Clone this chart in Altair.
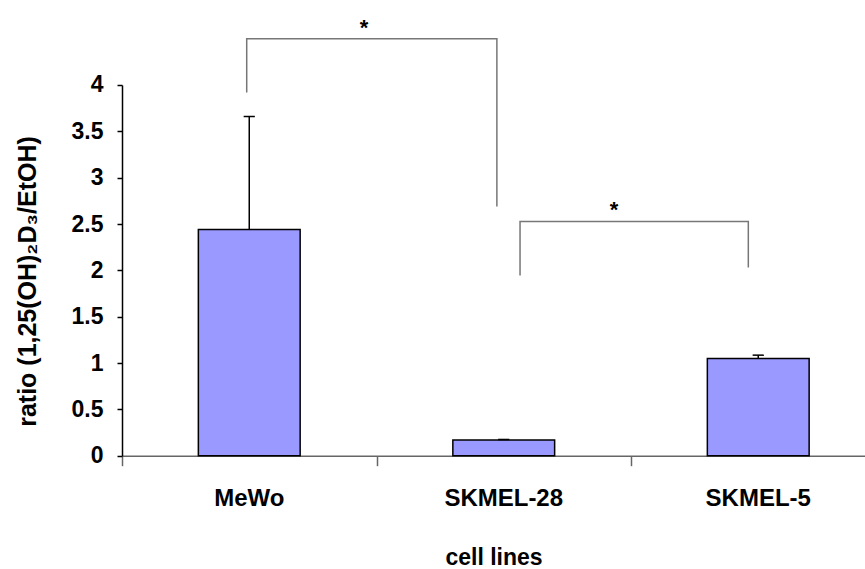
import altair as alt
import pandas as pd

categories = ["MeWo", "SKMEL-28", "SKMEL-5"]
means = [2.44, 0.17, 1.05]
errors = [1.22, 0.005, 0.035]

# significance brackets
bracket_group = ["a", "a", "a", "a", "b", "b", "b", "b"]
bracket_order = [0, 1, 2, 3, 0, 1, 2, 3]
bracket_x = [0.49, 0.49, 1.473, 1.473, 1.564, 1.564, 2.461, 2.461]
bracket_y = [3.92, 4.5, 4.5, 2.69, 1.944, 2.527, 2.527, 2.03]
star_x = [0.951, 1.933]
star_y = [4.66, 2.69]
star_text = ["*", "*"]

y_ticks = [0, 0.5, 1, 1.5, 2, 2.5, 3, 3.5, 4]
x_boundaries = [0, 1, 2, 3]

FONT = "Liberation Sans"
XMAX = 743 / 254.5

bars_df = pd.DataFrame({"cat": categories, "mean": means, "err": errors,
                        "idx": list(range(len(categories)))})
br_df = pd.DataFrame({"g": bracket_group, "o": bracket_order, "x": bracket_x, "y": bracket_y})
st_df = pd.DataFrame({"x": star_x, "y": star_y, "t": star_text})

xs = alt.Scale(domain=[0, XMAX], nice=False, zero=False)
ys = alt.Scale(domain=[0, 4], nice=False)

base = alt.Chart(bars_df).transform_calculate(
    pos="datum.idx + 0.5",
    left="datum.idx + 0.3",
    right="datum.idx + 0.7",
    upper="datum.mean + datum.err",
    capl="datum.idx + 0.5 - 0.022",
    capr="datum.idx + 0.5 + 0.022",
)

bars = base.mark_rect(color="#9999FF", stroke="black", strokeWidth=1.5).encode(
    x=alt.X("left:Q", scale=xs, axis=alt.Axis(
        values=x_boundaries, labels=False, tickSize=10, domainColor="#666666",
        tickColor="#666666", domainWidth=1.5, tickWidth=1.5, grid=False,
        title="cell lines", titleFont=FONT, titleFontSize=23, titleFontWeight="bold",
        titleColor="black", titlePadding=80)),
    x2="right:Q",
    y=alt.Y("mean:Q", scale=ys, axis=alt.Axis(
        values=y_ticks, format="~g", labelFont=FONT, labelFontSize=23,
        labelFontWeight="bold", labelColor="black", labelPadding=14, tickSize=5,
        tickColor="black", domainColor="black", domainWidth=1.5, tickWidth=1.5,
        grid=False, title="ratio (1,25(OH)₂D₃/EtOH)", titleFont=FONT,
        titleFontSize=25, titleFontWeight="bold", titleColor="black",
        titleAngle=-90, titleBaseline="middle", titleAlign="center",
        titleX=-95, titleY=196)),
    y2=alt.Y2(datum=0),
)

err_line = base.mark_rule(color="black", strokeWidth=1.5).encode(
    x=alt.X("pos:Q", scale=xs), y=alt.Y("mean:Q", scale=ys), y2="upper:Q")
err_cap = base.mark_rule(color="black", strokeWidth=1.5).encode(
    x=alt.X("capl:Q", scale=xs), x2="capr:Q", y=alt.Y("upper:Q", scale=ys))

labels = base.mark_text(font=FONT, fontSize=24, fontWeight="bold", color="black",
                        baseline="middle", dy=43).encode(
    x=alt.X("pos:Q", scale=xs), y=alt.Y(datum=0, scale=ys), text="cat:N")

brackets = alt.Chart(br_df).mark_line(color="#777777", strokeWidth=1.5).encode(
    x=alt.X("x:Q", scale=xs), y=alt.Y("y:Q", scale=ys), detail="g:N", order="o:Q")

stars = alt.Chart(st_df).mark_text(font=FONT, fontSize=22, fontWeight="bold",
                                   color="black", baseline="middle", dy=4).encode(
    x=alt.X("x:Q", scale=xs), y=alt.Y("y:Q", scale=ys), text="t:N")

chart = alt.layer(bars, err_line, err_cap, labels, brackets, stars).properties(
    width=743, height=370.7,
    padding={"left": 122, "top": 85, "right": 0, "bottom": 113},
    autosize="none",
    background="white",
).configure_view(stroke=None)

chart.save("out.html", embed_options={"renderer": "svg", "actions": False})
